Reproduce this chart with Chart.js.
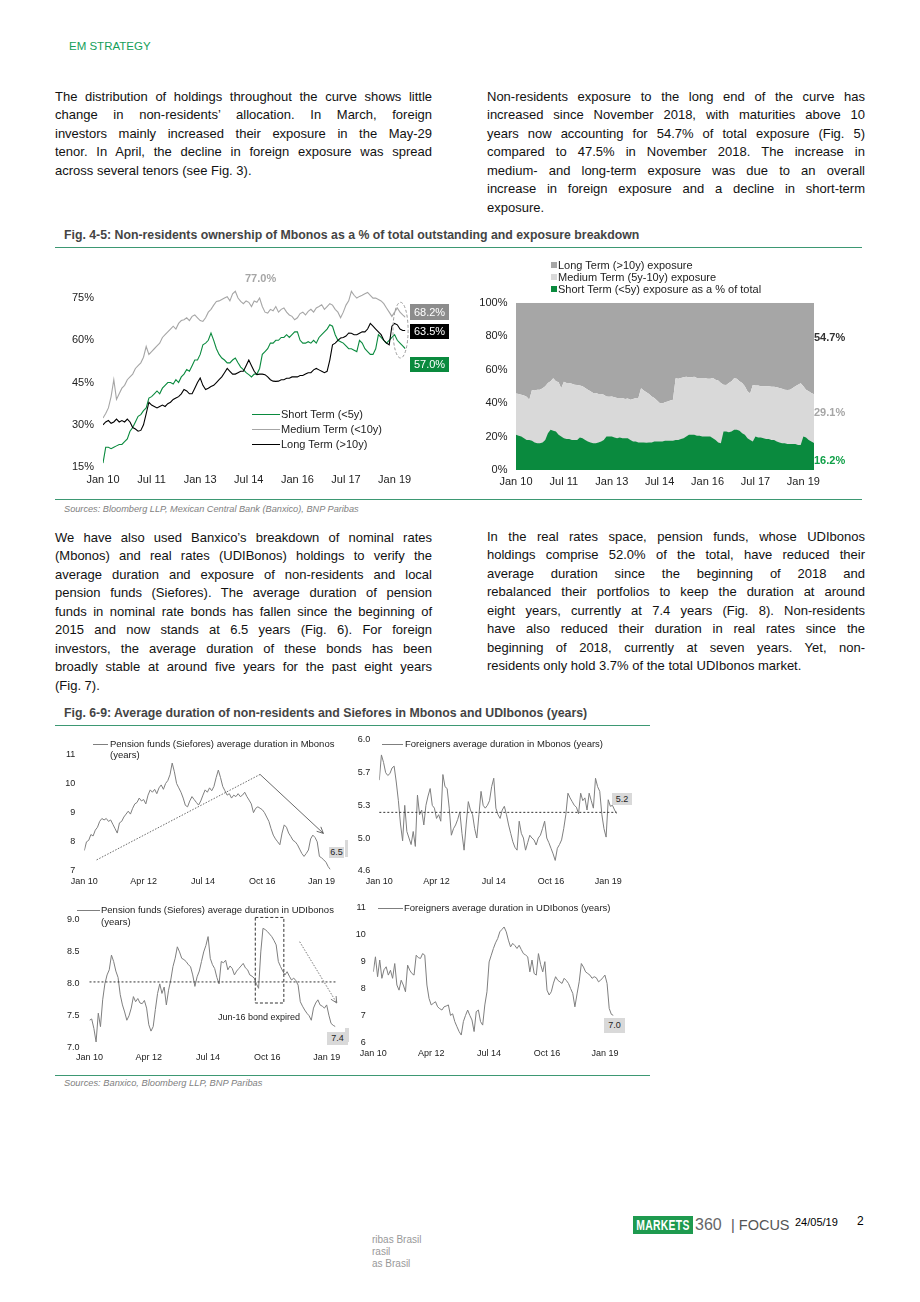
<!DOCTYPE html>
<html><head><meta charset="utf-8">
<script src="https://cdn.jsdelivr.net/npm/chart.js@4.4.0/dist/chart.umd.min.js"></script>
<style>
html,body{margin:0;padding:0;background:#fff;}
#page{position:relative;width:920px;height:1302px;overflow:hidden;font-family:"Liberation Sans",Arial,sans-serif;color:#111;}
.abs{position:absolute;}
.para{position:absolute;font-size:13px;}
.para div{height:18.5px;line-height:18.5px;text-align:justify;text-align-last:justify;}
.para div.l{text-align:left;text-align-last:left;}
.cap{position:absolute;font-size:12.3px;font-weight:bold;color:#444;line-height:14px;white-space:nowrap;}
.rule{position:absolute;height:1px;background:#3d9873;}
.src{position:absolute;font-style:italic;color:#7f7f7f;white-space:nowrap;line-height:12px;}
.lg{position:absolute;white-space:nowrap;color:#222;}
.sw{position:absolute;height:1px;}
.box{position:absolute;text-align:center;white-space:nowrap;}
canvas{position:absolute;}
</style></head>
<body><div id="page">

<div class="abs" style="left:69px;top:39px;font-size:11.5px;color:#14a05a;line-height:14px;">EM STRATEGY</div>

<div class="para" style="left:55px;top:87.75px;width:377px;">
<div>The distribution of holdings throughout the curve shows little</div>
<div>change in non-residents’ allocation. In March, foreign</div>
<div>investors mainly increased their exposure in the May-29</div>
<div>tenor. In April, the decline in foreign exposure was spread</div>
<div class="l">across several tenors (see Fig. 3).</div>
</div>
<div class="para" style="left:487px;top:87.75px;width:378px;">
<div>Non-residents exposure to the long end of the curve has</div>
<div>increased since November 2018, with maturities above 10</div>
<div>years now accounting for 54.7% of total exposure (Fig. 5)</div>
<div>compared to 47.5% in November 2018. The increase in</div>
<div>medium- and long-term exposure was due to an overall</div>
<div>increase in foreign exposure and a decline in short-term</div>
<div class="l">exposure.</div>
</div>

<div class="cap" style="left:64px;top:228px;">Fig. 4-5: Non-residents ownership of Mbonos as a % of total outstanding and exposure breakdown</div>
<div class="rule" style="left:55px;top:247px;width:807px;"></div>

<canvas id="c4" width="400" height="225" style="left:55px;top:265px;"></canvas>
<canvas id="c5" width="395" height="203" style="left:462px;top:287px;"></canvas>

<!-- Fig 4 overlays -->
<div class="abs" style="left:245px;top:272px;font-size:11px;font-weight:bold;color:#a6a6a6;line-height:13px;">77.0%</div>
<div class="box" style="left:410px;top:303.5px;width:39px;height:16px;line-height:16px;background:#8c8c8c;color:#fff;font-size:11px;">68.2%</div>
<div class="box" style="left:410px;top:323.5px;width:39px;height:15px;line-height:15px;background:#000;color:#fff;font-size:11px;">63.5%</div>
<div class="box" style="left:410px;top:356.5px;width:39px;height:15px;line-height:15px;background:#0a8a3e;color:#fff;font-size:11px;">57.0%</div>
<div class="sw" style="left:252px;top:414px;width:28px;background:#0a8a3e;"></div>
<div class="lg" style="left:281px;top:407px;font-size:11px;line-height:14px;">Short Term (&lt;5y)</div>
<div class="sw" style="left:252px;top:428.5px;width:28px;background:#a6a6a6;"></div>
<div class="lg" style="left:281px;top:421.5px;font-size:11px;line-height:14px;">Medium Term (&lt;10y)</div>
<div class="sw" style="left:252px;top:443.5px;width:28px;background:#000;"></div>
<div class="lg" style="left:281px;top:436.5px;font-size:11px;line-height:14px;">Long Term (&gt;10y)</div>

<!-- Fig 5 overlays -->
<div class="abs" style="left:551px;top:262px;width:6px;height:6px;background:#a6a6a6;"></div>
<div class="lg" style="left:558px;top:258px;font-size:11px;line-height:14px;">Long Term (&gt;10y) exposure</div>
<div class="abs" style="left:551px;top:274px;width:6px;height:6px;background:#d9d9d9;"></div>
<div class="lg" style="left:558px;top:270px;font-size:11px;line-height:14px;">Medium Term (5y-10y) exposure</div>
<div class="abs" style="left:551px;top:286px;width:6px;height:6px;background:#0a8a3e;"></div>
<div class="lg" style="left:558px;top:282px;font-size:11px;line-height:14px;">Short Term (&lt;5y) exposure as a % of total</div>
<div class="abs" style="left:814px;top:330px;font-size:11px;font-weight:bold;color:#333;line-height:14px;">54.7%</div>
<div class="abs" style="left:814px;top:404.5px;font-size:11px;font-weight:bold;color:#a6a6a6;line-height:14px;">29.1%</div>
<div class="abs" style="left:814px;top:452.5px;font-size:11px;font-weight:bold;color:#10a048;line-height:14px;">16.2%</div>

<div class="rule" style="left:55px;top:499px;width:807px;"></div>
<div class="src" style="left:64px;top:503px;font-size:9.2px;">Sources: Bloomberg LLP, Mexican Central Bank (Banxico), BNP Paribas</div>

<div class="para" style="left:55px;top:528.75px;width:377px;">
<div>We have also used Banxico’s breakdown of nominal rates</div>
<div>(Mbonos) and real rates (UDIBonos) holdings to verify the</div>
<div>average duration and exposure of non-residents and local</div>
<div>pension funds (Siefores). The average duration of pension</div>
<div>funds in nominal rate bonds has fallen since the beginning of</div>
<div>2015 and now stands at 6.5 years (Fig. 6). For foreign</div>
<div>investors, the average duration of these bonds has been</div>
<div>broadly stable at around five years for the past eight years</div>
<div class="l">(Fig. 7).</div>
</div>
<div class="para" style="left:487px;top:527.75px;width:378px;">
<div>In the real rates space, pension funds, whose UDIbonos</div>
<div>holdings comprise 52.0% of the total, have reduced their</div>
<div>average duration since the beginning of 2018 and</div>
<div>rebalanced their portfolios to keep the duration at around</div>
<div>eight years, currently at 7.4 years (Fig. 8). Non-residents</div>
<div>have also reduced their duration in real rates since the</div>
<div>beginning of 2018, currently at seven years. Yet, non-</div>
<div class="l">residents only hold 3.7% of the total UDIbonos market.</div>
</div>

<div class="cap" style="left:64px;top:706px;">Fig. 6-9: Average duration of non-residents and Siefores in Mbonos and UDIbonos (years)</div>
<div class="rule" style="left:55px;top:725px;width:595px;"></div>

<canvas id="c6" width="290" height="160" style="left:55px;top:735px;"></canvas>
<canvas id="c7" width="305" height="170" style="left:345px;top:725px;"></canvas>
<canvas id="c8" width="290" height="172" style="left:55px;top:900px;"></canvas>
<canvas id="c9" width="305" height="175" style="left:345px;top:895px;"></canvas>

<!-- Fig 6-9 overlays -->
<div class="sw" style="left:93px;top:744px;width:15px;background:#7f7f7f;"></div>
<div class="lg" style="left:110px;top:738px;font-size:9.5px;line-height:11px;">Pension funds (Siefores) average duration in Mbonos<br>(years)</div>
<div class="box" style="left:329px;top:846.5px;width:15px;height:11px;line-height:11px;background:#d9d9d9;font-size:9px;color:#222;">6.5</div>
<div class="abs" style="left:345px;top:840px;width:3px;height:17px;background:#d9d9d9;"></div>

<div class="sw" style="left:382px;top:744px;width:21px;background:#7f7f7f;"></div>
<div class="lg" style="left:405px;top:738px;font-size:9.5px;line-height:11px;">Foreigners average duration in Mbonos (years)</div>
<div class="box" style="left:612px;top:793px;width:20px;height:12px;line-height:12px;background:#d9d9d9;font-size:9px;color:#222;">5.2</div>

<div class="sw" style="left:77px;top:910px;width:23px;background:#7f7f7f;"></div>
<div class="lg" style="left:101px;top:904px;font-size:9.5px;line-height:11.5px;">Pension funds (Siefores) average duration in UDIbonos<br>(years)</div>
<div class="lg" style="left:218px;top:1012px;font-size:9px;line-height:11px;">Jun-16 bond expired</div>
<div class="box" style="left:327px;top:1031.5px;width:21px;height:13px;line-height:13px;background:#d9d9d9;font-size:9px;color:#222;">7.4</div>
<div class="abs" style="left:345px;top:1028px;width:4px;height:14px;background:#d9d9d9;"></div>

<div class="sw" style="left:378px;top:907.5px;width:25px;background:#7f7f7f;"></div>
<div class="lg" style="left:404px;top:901.5px;font-size:9.5px;line-height:11px;">Foreigners average duration in UDIbonos (years)</div>
<div class="box" style="left:604px;top:1018px;width:21px;height:15px;line-height:15px;background:#d9d9d9;font-size:9px;color:#222;">7.0</div>

<div class="rule" style="left:55px;top:1075px;width:595px;"></div>
<div class="src" style="left:64px;top:1076.5px;font-size:9.3px;">Sources: Banxico, Bloomberg LLP, BNP Paribas</div>

<!-- footer -->
<div class="abs" style="left:633px;top:1216px;width:60px;height:18px;background:#1e9a4f;overflow:hidden;text-align:center;">
  <span style="display:inline-block;color:#fff;font-weight:bold;font-size:14px;line-height:18px;transform:scaleX(0.74);transform-origin:center;letter-spacing:0.4px;margin-left:-20px;margin-right:-20px;">MARKETS</span>
</div>
<div class="abs" style="left:695px;top:1215px;font-size:16px;color:#666;line-height:20px;">360</div>
<div class="abs" style="left:731px;top:1216px;font-size:14.5px;color:#555;line-height:18px;white-space:nowrap;">| FOCUS</div>
<div class="abs" style="left:795px;top:1215px;font-size:11px;color:#000;line-height:14px;">24/05/19</div>
<div class="abs" style="left:857px;top:1214px;font-size:12px;color:#000;line-height:15px;">2</div>
<div class="abs" style="left:372px;top:1234px;font-size:10px;color:#999;line-height:12px;">ribas Brasil<br>rasil<br>as Brasil</div>

</div>
<script>
// ---------- DATA (month index 0 = Jan 2010, monthly) ----------
const ticksMonthsA = [0,18,36,54,72,90,108];
const ticksLabelsA = ['Jan 10','Jul 11','Jan 13','Jul 14','Jan 16','Jul 17','Jan 19'];
const ticksMonthsB = [0,27,54,81,108];
const ticksLabelsB = ['Jan 10','Apr 12','Jul 14','Oct 16','Jan 19'];

// Fig 4: non-residents ownership (% of outstanding)
const fig4Short = [16.4,22,22,21.5,22,22.5,23,23,24,25,
 27.7,29,31,33,33.6,35,36,39.5,40,41,
 42,41,43,44,45,45,44.5,46,45,47,
 48,49.6,49,51,53,53,55,58.4,59,60,
 62.6,60,57,55,53.7,53,52,52,53,53.7,
 52,50.5,49.6,48.5,47.8,47,48,48,50,55,
 56,57,59,59,60,60,61,61,62,61,
 62,63,63,60,59,59,59.5,59,60,59,
 61,62,63,64,65.5,65,62,60,59.5,59,
 58,57,57,56.5,56,60,59,57,56,55,
 55,57,62,61,60,59,60,61,62,60,
 59,58,57];
const fig4Medium = [32.4,34,36,40,46,39,41,43,44,46,
 47,48,50,51,52,54,57.8,55,56,57,
 58,59,61,62,63,64,65,64,66,67,
 67.3,68,67,68.5,69,68,67,66.7,68,70,
 71,72.5,73.8,74,74.5,75,75.5,74,76.5,77.4,
 75,73.8,73,74,73.5,72,74,73.5,75,72,
 70,69.7,71,70.5,72,70,71,71.5,70,69,
 68.5,67.3,68,69.5,70,69,70.3,71,70,71.5,
 72,72.6,71,72,73,72.5,71,70,68,70,
 72.5,74,77.4,76,75,75.6,76,76.5,77,76,
 75,75,74.5,74,73,71.5,70,68.5,70,71.5,
 70,69,68.2];
const fig4Long = [30,31,31.5,30.5,31,32,31,31.5,31,32,
 31,29,28.5,27.7,28,30,34,38,37,36.5,
 36,36.5,37,36.5,37.5,38,39,39.5,40,41,
 42.5,42,41,41,43,45,46.6,44,42.5,43,
 43.6,44,45,46,47,48.5,50,49,48,48,
 48.5,49,49,51,53,51,49,47.8,48,48,
 47.8,47,46,45.5,45.4,45.5,46,46,46.5,46.5,
 47,47,47,47.5,47.5,48,48.5,48.5,49.5,50,
 49.5,49,48.5,49,53,58.4,59,60,60.8,61,
 61.5,62.6,62.5,62,62,62.5,63,63,64,66,
 65,64,63,62,60,59,58.4,65,66,65.5,
 64,63.5,63.5];
const fig4YTicks = [15,30,45,60,75];
const fig4YLabels = ['15%','30%','45%','60%','75%'];

// Fig 5: exposure breakdown (% of total). Short share, and upper edge of medium band (short+medium)
const fig5Short = [21,20.5,20,19,18,18,17.5,16.5,16,16,
 16.5,18,22,24,23.5,23,21,20,19,18.5,
 18.5,18,18,18,19.5,19,18,17,16.5,16,
 16,16.5,17,18,20,20,20,19.5,19,19.5,
 19,19,19,18,17,17,16.5,16.5,16.5,16.3,
 16.5,16.5,17,17,17,17,17.5,17.5,17.5,17.5,
 18,18,18.5,19,20,21,21,21,20.5,20.5,
 20,20,20,20,19,18,16.5,16,23,23,
 22.5,23,24,24,23.5,22,21,19,18,17,
 20,19.5,19.5,19,18.5,18.5,18,18,17,16.5,
 16,16,15.5,15.5,15.5,15.5,15,15,20,19.5,
 18,17,16.2];
const fig5ShortPlusMedium = [45.8,45.5,45,44.5,43.8,42,47.8,47.5,48,48,
 48.8,50,52,53,54.8,53,52.5,48.8,52.8,52,
 52,51.5,51,50.8,50.5,50,49,48,47,46,
 46,45.5,45.5,45,44,43.8,44,43.5,43,43,
 43,42.5,42.8,42,42.5,43,43,48.8,47.5,46.5,
 45.5,44,43,41.5,40,39.8,40.5,41,41.5,42,
 54.8,54.5,55,55.5,55.8,55.5,55.5,55.8,55,55,
 55,55,54.5,54.5,55,54,53.5,52,51,50.8,
 52,53,54.8,54.5,53,52,50,47,45.8,50.8,
 50.5,50.5,50,50,50,50,49.8,49.8,49.5,49,
 48.5,48,47.8,48,49,50,51,51.8,50,48,
 47,46,45.3];
const fig5YTicks = [0,20,40,60,80,100];
const fig5YLabels = ['0%','20%','40%','60%','80%','100%'];

// Fig 6: pension funds avg duration in Mbonos (years)
const fig6Pension = [7.7,8.0,8.05,8.25,8.2,8.4,8.5,8.7,8.8,8.75,
 8.8,8.7,8.75,8.6,8.45,8.3,8.65,8.7,8.85,8.95,
 9.05,8.95,9.15,9.3,9.35,9.5,9.4,9.45,9.3,9.6,
 9.78,9.7,9.8,9.65,9.85,9.95,9.8,10.0,10.1,10.3,
 10.7,10.4,10.0,9.85,9.7,9.5,9.25,9.2,9.4,9.55,
 9.45,9.35,9.26,9.4,9.6,9.78,9.7,9.85,9.75,9.9,
 10.2,10.46,10.2,9.9,9.75,9.6,9.65,9.5,9.6,9.55,
 9.65,9.55,9.6,9.7,9.55,9.43,9.3,9.0,9.15,9.2,
 9.15,9.1,9.0,8.85,8.7,8.45,8.23,8.1,8.0,7.9,
 8.3,8.58,8.5,8.3,8.18,8.05,8.0,7.9,7.75,7.6,
 7.5,7.6,7.72,8.1,8.23,8.15,8.0,7.5,7.45,7.38,
 7.3,7.15,7.05];
const fig6YTicks = [7,8,9,10,11];
const fig6YLabels = ['7','8','9','10','11'];
const fig6Trend = [[5.6,7.38],[80,10.31]];
const fig6Arrow = [[80,10.31],[108.8,8.29]];

// Fig 7: foreigners avg duration in Mbonos (years)
const fig7Foreign = [5.57,5.84,5.76,5.65,5.62,5.64,5.7,5.72,5.55,5.35,
 5.1,4.92,5.3,5.02,4.95,4.88,5.02,4.86,5.41,5.2,
 5.25,5.09,5.3,5.4,5.48,5.3,5.27,5.16,5.2,5.13,
 5.63,5.5,5.48,5.27,4.98,5.05,5.09,5.15,5.23,5.0,
 4.82,5.1,5.34,5.25,5.2,5.05,4.95,5.2,5.45,5.3,
 5.27,5.3,5.35,5.5,5.59,5.27,5.2,5.16,5.25,5.29,
 5.2,5.09,5.0,4.91,4.85,4.82,5.13,5.0,4.95,4.82,
 4.9,4.98,4.95,4.93,4.875,4.95,4.98,5.05,5.13,4.95,
 4.9,4.84,4.78,4.71,4.84,4.88,4.93,5.05,5.2,5.43,
 5.38,5.34,5.3,5.28,5.21,5.43,5.35,5.38,5.25,5.43,
 5.35,5.27,5.59,5.5,5.45,5.2,5.05,4.96,5.36,5.29,
 5.3,5.25,5.21];
const fig7YTicks = [4.6,4.95,5.3,5.65,6.0];
const fig7YLabels = ['4.6','5.0','5.3','5.7','6.0'];
const fig7Average = [[0,5.225],[112,5.225]];

// Fig 8: pension funds avg duration in UDIbonos (years)
const fig8Pension = [7.43,7.45,7.3,7.09,7.54,7.33,7.75,8.0,8.14,8.22,
 8.45,8.35,8.2,8.1,7.83,7.67,7.56,7.43,7.5,7.62,
 7.8,7.72,7.77,7.7,7.69,7.74,7.62,7.36,7.26,7.33,
 7.6,7.85,8.0,7.85,7.95,7.67,7.9,8.06,8.27,8.4,
 8.58,8.5,8.4,8.38,8.35,8.3,8.27,8.14,7.96,8.11,
 8.2,8.35,8.5,8.6,8.74,8.4,8.3,8.24,8.1,8.0,
 8.35,8.33,8.37,8.22,8.28,8.24,8.14,8.2,8.24,8.28,
 8.32,8.25,8.22,8.14,8.12,8.09,8.0,7.93,8.5,8.87,
 8.85,8.82,8.78,8.74,8.68,8.61,8.35,8.27,8.2,8.14,
 8.19,8.12,8.06,8.09,8.05,7.98,7.72,7.65,7.59,7.54,
 7.5,7.43,7.62,7.7,7.75,7.67,7.65,7.62,7.67,7.51,
 7.38,7.35,7.33];
const fig8YTicks = [7.0,7.5,8.0,8.5,9.0];
const fig8YLabels = ['7.0','7.5','8.0','8.5','9.0'];
const fig8Average = [[0,8.03],[112,8.03]];
const fig8Box = {x0:75.5, x1:88.5, y0:7.70, y1:9.04};
const fig8Arrow = [[95.7,8.66],[112.6,7.70]];

// Fig 9: foreigners avg duration in UDIbonos (years)
const fig9Foreign = [8.62,9.18,8.44,9.06,8.38,8.7,8.81,8.5,8.68,8.38,
 8.93,8.13,7.94,8.31,8.13,7.88,8.87,8.68,8.56,8.5,
 9.24,9.15,9.12,9.3,9.24,8.13,7.63,7.39,7.45,7.51,
 7.32,7.25,7.2,7.32,7.35,7.39,7.0,7.06,6.77,6.58,
 6.4,6.27,6.77,7.0,7.2,7.0,6.83,6.4,7.14,7.2,
 6.77,6.64,7.39,7.88,8.99,9.24,9.49,9.7,9.86,10.11,
 10.2,10.29,10.11,9.8,9.55,9.68,9.6,9.49,9.61,9.45,
 9.3,9.25,9.18,8.62,9.06,8.56,8.5,9.3,8.9,8.62,
 9.0,7.94,7.76,7.88,8.2,8.44,8.31,8.25,8.19,8.38,
 8.3,8.19,8.0,7.82,7.32,7.8,8.25,8.93,8.8,8.62,
 8.56,8.5,8.38,8.44,8.4,8.25,8.31,8.4,8.5,8.19,
 7.26,7.04,7.0];
const fig9YTicks = [6,7,8,9,10,11];
const fig9YLabels = ['6','7','8','9','10','11'];

// Fig 4 highlight ellipse (data coords)
const fig4Ellipse = {cx:110.2, cy:63.6, rx:2.8, ry:9.9};

// ---------- RENDERING ----------
Chart.defaults.font.family = '"Liberation Sans", Arial, sans-serif';
const GREEN = '#0a8a3e', LGREY = '#a6a6a6', VLGREY = '#d9d9d9', DGREY = '#7f7f7f';
const toXY = arr => arr.map((y,x)=>({x,y}));

function annot(items){
  return {id:'annot', afterDatasetsDraw(chart){
    const ctx = chart.ctx, xs = chart.scales.x, ys = chart.scales.y;
    const px = v=>xs.getPixelForValue(v), py = v=>ys.getPixelForValue(v);
    ctx.save();
    items.forEach(it=>{
      ctx.strokeStyle = it.color||'#333'; ctx.lineWidth = it.width||1; ctx.setLineDash(it.dash||[]);
      if(it.type==='path'){
        ctx.beginPath();
        it.pts.forEach((p,i)=>{const X=px(p[0]),Y=py(p[1]); if(i) ctx.lineTo(X,Y); else ctx.moveTo(X,Y);});
        ctx.stroke();
        if(it.arrow){
          const n=it.pts.length, a=it.pts[n-2], b=it.pts[n-1];
          const ax=px(a[0]),ay=py(a[1]),bx=px(b[0]),by=py(b[1]);
          const ang=Math.atan2(by-ay,bx-ax), L=7;
          ctx.setLineDash([]); ctx.beginPath();
          ctx.moveTo(bx-L*Math.cos(ang-0.45), by-L*Math.sin(ang-0.45));
          ctx.lineTo(bx,by);
          ctx.lineTo(bx-L*Math.cos(ang+0.45), by-L*Math.sin(ang+0.45));
          ctx.stroke();
        }
      } else if(it.type==='rect'){
        const x0=px(it.x0),x1=px(it.x1),y0=py(it.y0),y1=py(it.y1);
        ctx.strokeRect(Math.min(x0,x1),Math.min(y0,y1),Math.abs(x1-x0),Math.abs(y1-y0));
      } else if(it.type==='ellipse'){
        const cx=px(it.cx), cy=py(it.cy);
        const rx=Math.abs(px(it.cx+it.rx)-cx), ry=Math.abs(py(it.cy+it.ry)-cy);
        ctx.beginPath(); ctx.ellipse(cx,cy,rx,ry,0,0,2*Math.PI); ctx.stroke();
      }
    });
    ctx.restore();
  }};
}

function makeChart(id, datasets, o){
  return new Chart(document.getElementById(id), {
    type:'line',
    data:{datasets},
    options:{
      responsive:false, animation:false, events:[],
      layout:{padding:{top:o.pt, right:o.pr, left:0, bottom:0}},
      plugins:{legend:{display:false}, tooltip:{enabled:false}},
      elements:{point:{radius:0}, line:{tension:0}},
      scales:{
        x:{type:'linear', min:0, max:112,
           grid:{display:false, drawTicks:false}, border:{display:false},
           afterBuildTicks:s=>{s.ticks=o.xt.map(v=>({value:v}));},
           afterFit:s=>{s.height=o.xh;},
           ticks:{autoSkip:false, maxRotation:0, padding:o.xp, font:{size:o.fs}, color:'#222',
                  callback:(v,i)=>o.xl[i]}},
        y:{type:'linear', min:o.ymin, max:o.ymax,
           grid:{display:false, drawTicks:false}, border:{display:false},
           afterBuildTicks:s=>{s.ticks=o.yt.map(v=>({value:v}));},
           afterFit:s=>{s.width=o.yw;},
           ticks:{padding:o.yp, font:{size:o.fs}, color:'#222',
                  callback:(v,i)=>o.yl[i]}}
      }
    },
    plugins: o.annot ? [annot(o.annot)] : []
  });
}

const lineDs = (arr,color,w)=>({data:toXY(arr), borderColor:color, borderWidth:w||1, fill:false, pointRadius:0});

// Fig 4
makeChart('c4', [
  lineDs(fig4Long,'#000',1.1),
  lineDs(fig4Short,GREEN,1.1),
  lineDs(fig4Medium,LGREY,1.1)
], {pt:19, pr:49.6, xh:23, yw:48, xp:6, yp:9, fs:11, ymin:15, ymax:80,
    xt:ticksMonthsA, xl:ticksLabelsA, yt:fig4YTicks, yl:fig4YLabels,
    annot:[{type:'ellipse', ...fig4Ellipse, color:'#999', dash:[3,2], width:1}]});

// Fig 5
makeChart('c5', [
  {data:toXY(fig5Short), borderWidth:0, borderColor:GREEN, backgroundColor:GREEN, fill:'origin', pointRadius:0},
  {data:toXY(fig5ShortPlusMedium), borderWidth:0, borderColor:VLGREY, backgroundColor:VLGREY, fill:'origin', pointRadius:0},
  {data:toXY(fig5ShortPlusMedium), borderWidth:0, borderColor:LGREY, backgroundColor:LGREY, fill:'end', pointRadius:0}
], {pt:15.7, pr:43, xh:20, yw:54, xp:5, yp:8.5, fs:11, ymin:0, ymax:100,
    xt:ticksMonthsA, xl:ticksLabelsA, yt:fig5YTicks, yl:fig5YLabels});

// Fig 6
makeChart('c6', [lineDs(fig6Pension,DGREY,1)],
  {pt:19.3, pr:14.6, xh:24, yw:29.3, xp:5, yp:9, fs:9, ymin:7, ymax:11,
   xt:ticksMonthsB, xl:ticksLabelsB, yt:fig6YTicks, yl:fig6YLabels,
   annot:[{type:'path', pts:fig6Trend, color:'#444', width:0.8, dash:[1.5,1.5]},
          {type:'path', pts:fig6Arrow, color:'#444', width:0.8, dash:[], arrow:true}]});

// Fig 7
makeChart('c7', [lineDs(fig7Foreign,DGREY,1)],
  {pt:15, pr:33.3, xh:24.3, yw:34.3, xp:5, yp:9, fs:9, ymin:4.6, ymax:6.0,
   xt:ticksMonthsB, xl:ticksLabelsB, yt:fig7YTicks, yl:fig7YLabels,
   annot:[{type:'path', pts:fig7Average, color:'#333', width:1, dash:[2,2]}]});

// Fig 8
makeChart('c8', [lineDs(fig8Pension,DGREY,1)],
  {pt:20, pr:9.1, xh:24.3, yw:34.5, xp:4.5, yp:10, fs:9, ymin:7, ymax:9,
   xt:ticksMonthsB, xl:ticksLabelsB, yt:fig8YTicks, yl:fig8YLabels,
   annot:[{type:'path', pts:fig8Average, color:'#333', width:1, dash:[2,2]},
          {type:'rect', ...fig8Box, color:'#333', width:1, dash:[3,2]},
          {type:'path', pts:fig8Arrow, color:'#555', width:0.8, dash:[1.5,1.5], arrow:true}]});

// Fig 9
makeChart('c9', [lineDs(fig9Foreign,DGREY,1)],
  {pt:12.7, pr:36.5, xh:27.7, yw:28.3, xp:6, yp:7.5, fs:9, ymin:6, ymax:11,
   xt:ticksMonthsB, xl:ticksLabelsB, yt:fig9YTicks, yl:fig9YLabels});
</script>
</body></html>
